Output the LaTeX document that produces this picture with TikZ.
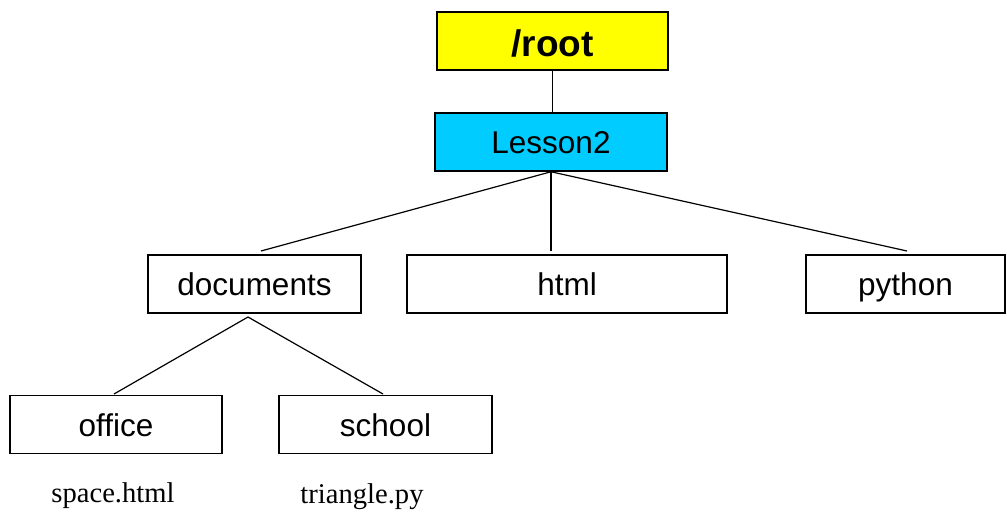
\documentclass[tikz,border=0pt]{standalone}
\usepackage{fontspec}
\setmainfont{Liberation Sans}
\newfontfamily\filefont{Liberation Serif}
\begin{document}
\begin{tikzpicture}[
    x=1pt, y=-1pt,
    every node/.style={align=center, inner sep=0pt},
    dir box/.style={draw, line width=1.5pt, minimum height=58pt, text height=23.4pt, text depth=0pt, font=\fontsize{31.5}{36}\selectfont},
    root box/.style={dir box, fill=rootyellow, text height=30pt, font=\fontsize{37}{42}\selectfont\bfseries},
    lesson box/.style={dir box, fill=lessoncyan},
    file label/.style={anchor=base, font=\filefont\fontsize{28.6}{32}\selectfont},
    tree line/.style={draw, line width=1.2pt},
    ]
\definecolor{rootyellow}{HTML}{FFFF00}
\definecolor{lessoncyan}{HTML}{00CCFF}
\useasboundingbox (0,0) rectangle (1007,512);
\node[root box, minimum width=231pt] (root) at (552.5,41) {/root};
\node[lesson box, minimum width=232pt] (Lesson2) at (551,142) {Lesson2};
\node[dir box, minimum width=213pt] (documents) at (254.5,284) {documents};
\node[dir box, minimum width=320pt] (html) at (567,284) {html};
\node[dir box, minimum width=199pt] (python) at (905.5,284) {python};
\node[dir box, minimum width=212pt] (office) at (116,424.5) {office};
\node[dir box, minimum width=213pt] (school) at (385.5,424.5) {school};
\node[file label] (spaceHtml) at (113,502) {space.html};
\node[file label] (trianglePy) at (362,503) {triangle.py};
\coordinate (documentsIn) at (261,251);
\coordinate (htmlIn) at (551,251);
\coordinate (pythonIn) at (907,251);
\coordinate (documentsOut) at (248,317);
\coordinate (officeIn) at (114,394);
\coordinate (schoolIn) at (383,394);
\draw[tree line] (root.south) -- (root.south |- Lesson2.north);
\draw[tree line] (Lesson2.south) -- (documentsIn);
\draw[tree line] (Lesson2.south) -- (htmlIn);
\draw[tree line] (Lesson2.south) -- (pythonIn);
\draw[tree line] (documentsOut) -- (officeIn);
\draw[tree line] (documentsOut) -- (schoolIn);
\end{tikzpicture}
\end{document}
